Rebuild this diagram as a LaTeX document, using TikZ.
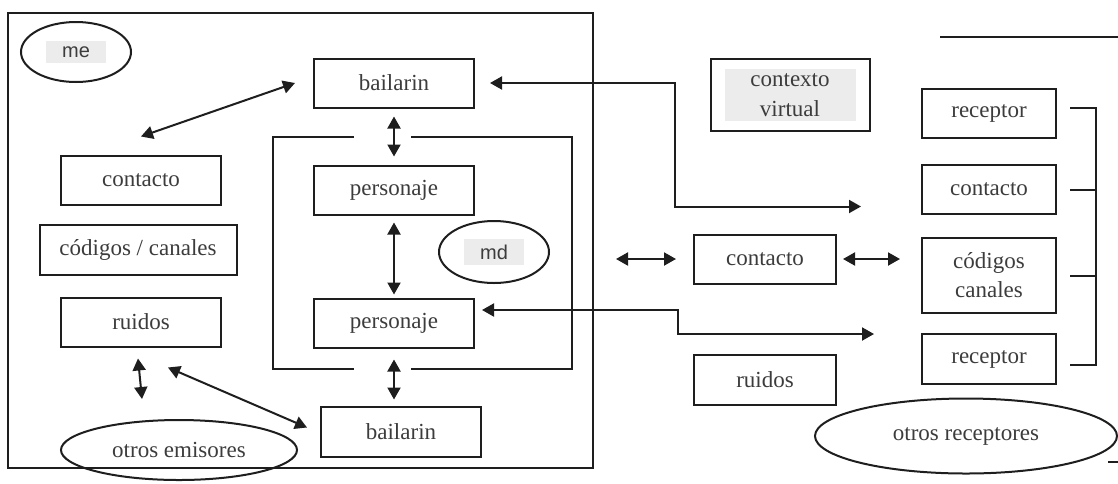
\documentclass[tikz,border=0pt]{standalone}
\usepackage{fontspec}
\setmainfont{Liberation Serif}
\newfontfamily\tagfont{Liberation Sans}
\usetikzlibrary{arrows.meta, positioning, shapes.geometric, calc}
\definecolor{InkGray}   {RGB}{ 30,  30,  30}
\definecolor{TextGray}  {RGB}{ 60,  60,  60}
\definecolor{ShadeGray} {RGB}{236, 236, 236}
\newcommand{\tagtext}[1]{{\setlength{\fboxsep}{3pt}\colorbox{ShadeGray}{\makebox[24pt]{\tagfont\fontsize{10}{12}\selectfont #1}}}}
\tikzset{
  % Plain boxes
  box/.style={
    rectangle, draw=InkGray, line width=1pt,
    text=TextGray, font=\fontsize{11.5}{14.5}\selectfont,
    minimum width=80pt, minimum height=24.5pt,
    inner sep=2pt, align=center
  },
  % Right-hand boxes
  rbox/.style={box, minimum width=67pt},
  % Ovals
  oval/.style={
    ellipse, draw=InkGray, line width=1pt,
    text=TextGray, font=\fontsize{11.5}{14.5}\selectfont,
    inner sep=0pt
  },
  % Frames and brackets
  frame/.style={draw=InkGray, line width=1pt},
  % Two-way arrows
  dbl/.style={
    {Triangle[length=6pt,width=6.5pt]}-{Triangle[length=6pt,width=6.5pt]},
    line width=1pt, color=InkGray
  }
}

\begin{document}
\begin{tikzpicture}[x=0.5pt, y=-0.5pt]
  \useasboundingbox (0,0) rectangle (1118,483);

  % ── Emisor side ────────────────────────────────────────────────────────────
  \draw[frame] (8,13) rectangle (593,468);
  \node[oval, minimum width=55pt, minimum height=30pt] (me) at (76,52) {\tagtext{me}};

  \node[box] (bailA) at (394,83) {bailarin};
  \node[box, below=28pt of bailA] (persA) {personaje};
  \node[box, below=41pt of persA] (persB) {personaje};
  \node[box, below=28.5pt of persB, xshift=3.5pt, minimum height=25pt] (bailB) {bailarin};

  \node[oval, minimum width=55pt, minimum height=31pt] (md) at (494,252) {\tagtext{md}};

  \node[box] (contL) at (141,180) {contacto};
  \node[box, below=9pt of contL, xshift=-1.5pt, minimum width=98.5pt, minimum height=25pt] (codL) {códigos / canales};
  \node[box, below=10.5pt of codL, xshift=1.5pt] (ruiL) {ruidos};

  \node[oval, minimum width=118pt, minimum height=30pt] (otrosE) at (179,450) {otros emisores};

  % inner frame, open round the arrows
  \draw[frame] (354,137) -| (273,369) -- (354,369);
  \draw[frame] (411,137) -| (572,369) -- (411,369);

  % ── Middle ─────────────────────────────────────────────────────────────────
  \node[box, minimum width=79.5pt, minimum height=36pt, inner sep=0pt] (ctx) at (790,95)
        {{\setlength{\fboxsep}{0pt}\colorbox{ShadeGray}{\parbox[c][26pt]{65.5pt}{\centering\fontsize{11.5}{15}\selectfont contexto\\virtual}}}};
  \node[box, minimum width=71pt] (ctxM) at (765,259) {contacto};
  \node[box, below=34.5pt of ctxM, minimum width=71pt, minimum height=25pt] (ruiM) {ruidos};

  % ── Receptor side ──────────────────────────────────────────────────────────
  \node[rbox] (recA) at (989,113) {receptor};
  \node[rbox, below=12.75pt of recA] (conR) {contacto};
  \node[rbox, below=11pt of conR, minimum height=37.5pt] (codR) {códigos\\canales};
  \node[rbox, below=9.5pt of codR, minimum height=25pt] (recB) {receptor};

  \node[oval, minimum width=151pt, minimum height=37.5pt] (otrosR) at (966,436) {otros receptores};

  \draw[frame] (940,37) -- (1118,37);
  \draw[frame] (1108,462) -- (1118,462);

  % bracket
  \draw[frame] ([shift={(6.5pt,2.5pt)}]recA.east) -| ([shift={(19.5pt,-3pt)}]recB.east)
               -- ([shift={(6.5pt,-3pt)}]recB.east);
  \draw[frame] ([xshift=6.5pt]conR.east) -- ++(13pt,0);
  \draw[frame] ([xshift=6.5pt]codR.east) -- ++(13pt,0);

  % ── Arrows ─────────────────────────────────────────────────────────────────
  \draw[dbl] ([yshift=9pt]contL.north) -- ([xshift=-9pt]bailA.west);
  \draw[dbl, shorten <=4pt, shorten >=4pt] (bailA.south) -- (persA.north);
  \draw[dbl, shorten <=3.5pt, shorten >=1.5pt] (persA.south) -- (persB.north);
  \draw[dbl, shorten <=5.5pt, shorten >=3pt] (persB.south) -- (persB.south |- bailB.north);
  \draw[dbl] ([shift={(-1.5pt,-5.5pt)}]ruiL.south) -- ([shift={(-18.5pt,10pt)}]otrosE.north);
  \draw[dbl] ([shift={(13.5pt,-10pt)}]ruiL.south) -- ([shift={(-6.5pt,2pt)}]bailB.west);

  \coordinate (tipA) at ([shift={(-30pt,-8.5pt)}]conR.west);
  \coordinate (tipB) at ([shift={(-23.5pt,12.5pt)}]recB.west);
  \draw[dbl, shorten <=7.5pt] (bailA.east) -- ++(100pt,0) |- (tipA);
  \draw[dbl] ([shift={(3.5pt,6.5pt)}]persB.east) -- ++(98pt,0) |- (tipB);

  \draw[dbl] ([xshift=-38.5pt]ctxM.west) -- ([xshift=-8.5pt]ctxM.west);
  \draw[dbl, shorten <=3pt, shorten >=10.5pt] (ctxM.east) -- (ctxM.east -| codR.west);

\end{tikzpicture}
\end{document}
